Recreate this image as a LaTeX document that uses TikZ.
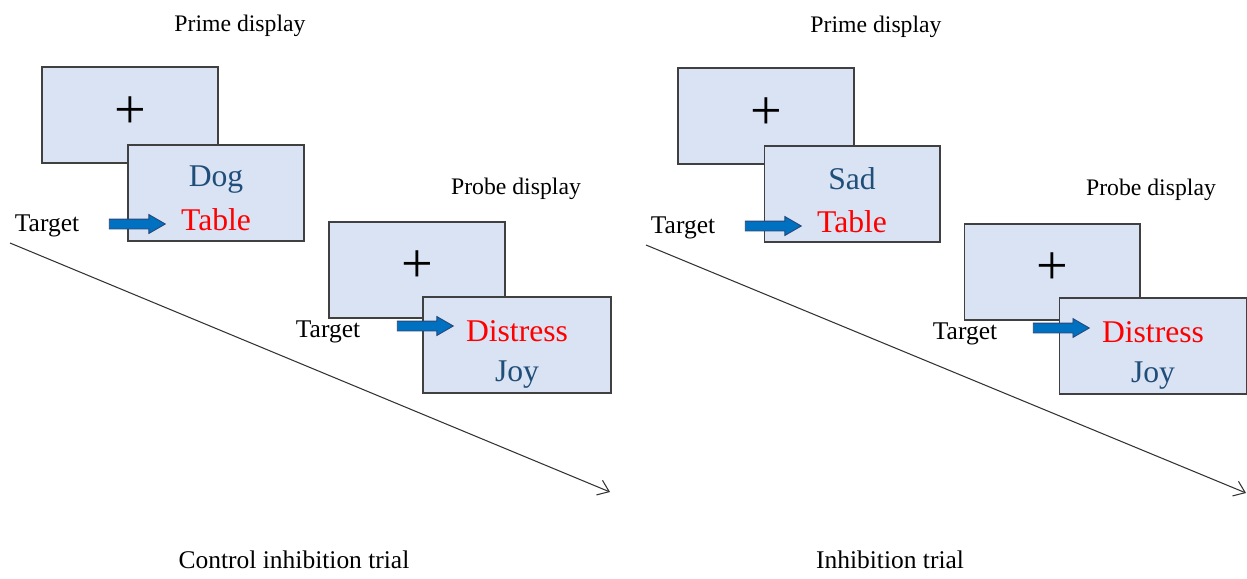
\documentclass[tikz,border=0pt]{standalone}
\usepackage{fontspec}
\setmainfont{Liberation Serif}
\usepackage{xcolor}
\definecolor{ScreenFill} {RGB}{218, 227, 243}
\definecolor{ScreenLine} {RGB}{64,  64,  64}
\definecolor{WordBlue}   {RGB}{31,  78, 121}
\definecolor{WordRed}    {RGB}{255,  0,   0}
\definecolor{ArrowBlue}  {RGB}{0,  112, 192}
\definecolor{ArrowLine}  {RGB}{40,  70, 120}
\usetikzlibrary{
  shapes.arrows,
  arrows.meta,
  positioning
}

\begin{document}
\begin{tikzpicture}[
  x=0.02cm, y=-0.02cm,
  screen/.style={
    draw=ScreenLine, fill=ScreenFill,
    line width=0.6pt,
    minimum width=3.52cm,
    minimum height=1.92cm,
    inner sep=0pt
  },
  wide/.style={
    screen, minimum width=3.76cm
  },
  caption/.style={
    font=\fontsize{13.5}{16}\selectfont
  },
  label/.style={
    font=\fontsize{14.5}{17}\selectfont
  },
  word/.style={
    font=\fontsize{18}{21}\selectfont
  },
  cross/.style={
    font=\fontsize{32}{32}\selectfont
  },
  pointer/.style={
    single arrow, draw=ArrowLine, fill=ArrowBlue,
    line width=0.5pt,
    inner xsep=0pt, inner ysep=0.09cm,
    minimum height=1.12cm,
    single arrow head extend=0.09cm,
    single arrow tip angle=60
  },
  timeline/.style={
    -{Straight Barb[length=6pt, width=9pt]},
    line width=0.6pt, color=black!80
  }
]
\useasboundingbox (0,0) rectangle (1247,578);

% control inhibition trial
\node[caption] (lprime) at (240,26) {Prime display};
\node[screen] (lfix1) at (130,115) {};
\node[cross] (lplus1) at (130,113) {+};
\node[screen] (lprimebox) at (216,193) {};
\node[word, text=WordBlue] (ldog) at (216,180) {Dog};
\node[word, text=WordRed] (ltable) at (216,220) {Table};
\node[label] (ltarget1) at (47,226) {Target};
\node[pointer] (larrow1) at (133,224) {};

\node[caption] (lprobe) at (516,189) {Probe display};
\node[screen] (lfix2) at (417,270) {};
\node[cross] (lplus2) at (417,267) {+};
\node[wide] (lprobebox) at (517,345) {};
\node[word, text=WordRed] (ldistress) at (517,331) {Distress};
\node[word, text=WordBlue] (ljoy) at (517,375) {Joy};
\node[label] (ltarget2) at (328,332) {Target};
\node[pointer] (larrow2) at (421,326) {};

\coordinate (lstart) at (10,243);
\coordinate (lend) at (610,492);
\draw[timeline] (lstart) -- (lend);
\node[label] (ltrial) at (294,560) {Control inhibition trial};

% inhibition trial
\node[caption] (rprime) at (876,27) {Prime display};
\node[screen] (rfix1) at (766,116) {};
\node[cross] (rplus1) at (766,114) {+};
\node[screen] (rprimebox) at (852,194) {};
\node[word, text=WordBlue] (rsad) at (852,179) {Sad};
\node[word, text=WordRed] (rtable) at (852,222) {Table};
\node[label] (rtarget1) at (683,228) {Target};
\node[pointer] (rarrow1) at (769,226) {};

\node[caption] (rprobe) at (1151,190) {Probe display};
\node[screen] (rfix2) at (1052,272) {};
\node[cross] (rplus2) at (1052,269) {+};
\node[wide] (rprobebox) at (1153,346) {};
\node[word, text=WordRed] (rdistress) at (1153,332) {Distress};
\node[word, text=WordBlue] (rjoy) at (1153,376) {Joy};
\node[label] (rtarget2) at (965,334) {Target};
\node[pointer] (rarrow2) at (1057,328) {};

\coordinate (rstart) at (646,245);
\coordinate (rend) at (1246,493);
\draw[timeline] (rstart) -- (rend);
\node[label] (rtrial) at (890,560) {Inhibition trial};
\end{tikzpicture}
\end{document}
